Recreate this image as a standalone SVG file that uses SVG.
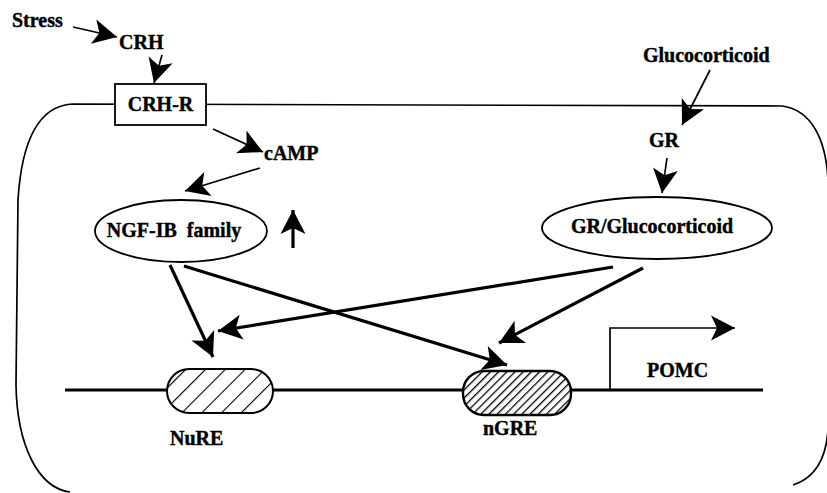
<svg xmlns="http://www.w3.org/2000/svg" width="827" height="493" viewBox="0 0 827 493">
<style>
text{font-family:"Liberation Serif","Times New Roman",serif;font-weight:bold;fill:#000;stroke:#000;stroke-width:0.4;font-size:20px}
.thin{stroke:#000;stroke-width:1.7;fill:none}
.thick{stroke:#000;stroke-width:3.2;fill:none}
.shape{fill:#fff;stroke:#000;stroke-width:1.8}
</style>
<defs>
<marker id="ah" viewBox="-25 -14 26 28" refX="0" refY="0" markerWidth="26" markerHeight="28" markerUnits="userSpaceOnUse" orient="auto">
<path d="M0,0 L-24,-12.5 L-18,0 L-24,12.5 Z" fill="#000"/>
</marker>
<pattern id="hatchS" width="14" height="14" patternUnits="userSpaceOnUse" patternTransform="rotate(45)">
<line x1="0" y1="0" x2="0" y2="14" stroke="#000" stroke-width="2.2"/>
</pattern>
<pattern id="hatchD" width="5.8" height="5.8" patternUnits="userSpaceOnUse" patternTransform="rotate(45)">
<line x1="0" y1="0" x2="0" y2="5.8" stroke="#000" stroke-width="2.6"/>
</pattern>
</defs>

<g id="cell">
<path d="M70,492 C38,488 17,445 16,385 L18,200 C22,135 42,106 72,104 L782,106 C812,110 826,140 828,180 L828,430 C826,460 815,478 793,485" class="thin" stroke-width="2.3"/>
</g>

<g id="dna">
<line x1="65" y1="390" x2="763" y2="390" class="thick" stroke-width="3.6"/>
</g>

<g id="connectors">
<line x1="73" y1="27" x2="117" y2="37" class="thin" marker-end="url(#ah)"/>
<line x1="162" y1="55" x2="154" y2="83" class="thin" marker-end="url(#ah)"/>
<line x1="213" y1="129" x2="263" y2="152" class="thin" marker-end="url(#ah)"/>
<line x1="260" y1="168" x2="185" y2="191" class="thin" marker-end="url(#ah)"/>
<line x1="710" y1="70" x2="682" y2="125" class="thin" marker-end="url(#ah)"/>
<line x1="667" y1="158" x2="662" y2="193" class="thin" marker-end="url(#ah)"/>
<line x1="170" y1="265" x2="213" y2="357" class="thick" marker-end="url(#ah)"/>
<line x1="613" y1="267" x2="218" y2="331" class="thick" marker-end="url(#ah)"/>
<line x1="184" y1="266" x2="507" y2="365" class="thick" marker-end="url(#ah)"/>
<line x1="643" y1="268" x2="499" y2="343" class="thick" marker-end="url(#ah)"/>
<line x1="293" y1="248" x2="293" y2="210" class="thick" marker-end="url(#ah)"/>
<polyline points="610,390 610,328 735,328" class="thin" stroke-width="2.4" marker-end="url(#ah)"/>
</g>

<g id="stress"><text x="12" y="27">Stress</text></g>
<g id="crh"><text x="119" y="49">CRH</text></g>
<g id="crh-r">
<rect x="115" y="84" width="91" height="41" class="shape" stroke-width="1.4"/>
<text x="160.5" y="111" text-anchor="middle">CRH-R</text>
</g>
<g id="camp"><text x="264" y="160" font-size="17">cAMP</text></g>
<g id="glucocorticoid"><text x="643" y="62">Glucocorticoid</text></g>
<g id="gr"><text x="649" y="147" font-size="21">GR</text></g>
<g id="ngf-ib">
<ellipse cx="181" cy="231" rx="86" ry="31" class="shape" stroke-width="1.5"/>
<text x="174" y="237" text-anchor="middle" xml:space="preserve">NGF-IB  family</text>
</g>
<g id="gr-gluc">
<ellipse cx="657" cy="228" rx="115" ry="31" class="shape" stroke-width="1.5"/>
<text x="652" y="233" text-anchor="middle">GR/Glucocorticoid</text>
</g>
<g id="nure">
<rect x="167" y="369" width="106" height="44" rx="22" ry="22" fill="#fff"/>
<rect x="167" y="369" width="106" height="44" rx="22" ry="22" fill="url(#hatchS)" stroke="#000" stroke-width="2"/>
<text x="170" y="445" font-size="23">NuRE</text>
</g>
<g id="ngre">
<rect x="463" y="371" width="108" height="44" rx="21" ry="21" fill="#fff"/>
<rect x="463" y="371" width="108" height="44" rx="21" ry="21" fill="url(#hatchD)" stroke="#000" stroke-width="2.4"/>
<text x="483" y="435" font-size="21">nGRE</text>
</g>
<g id="pomc"><text x="647" y="377" font-size="18">POMC</text></g>
</svg>
